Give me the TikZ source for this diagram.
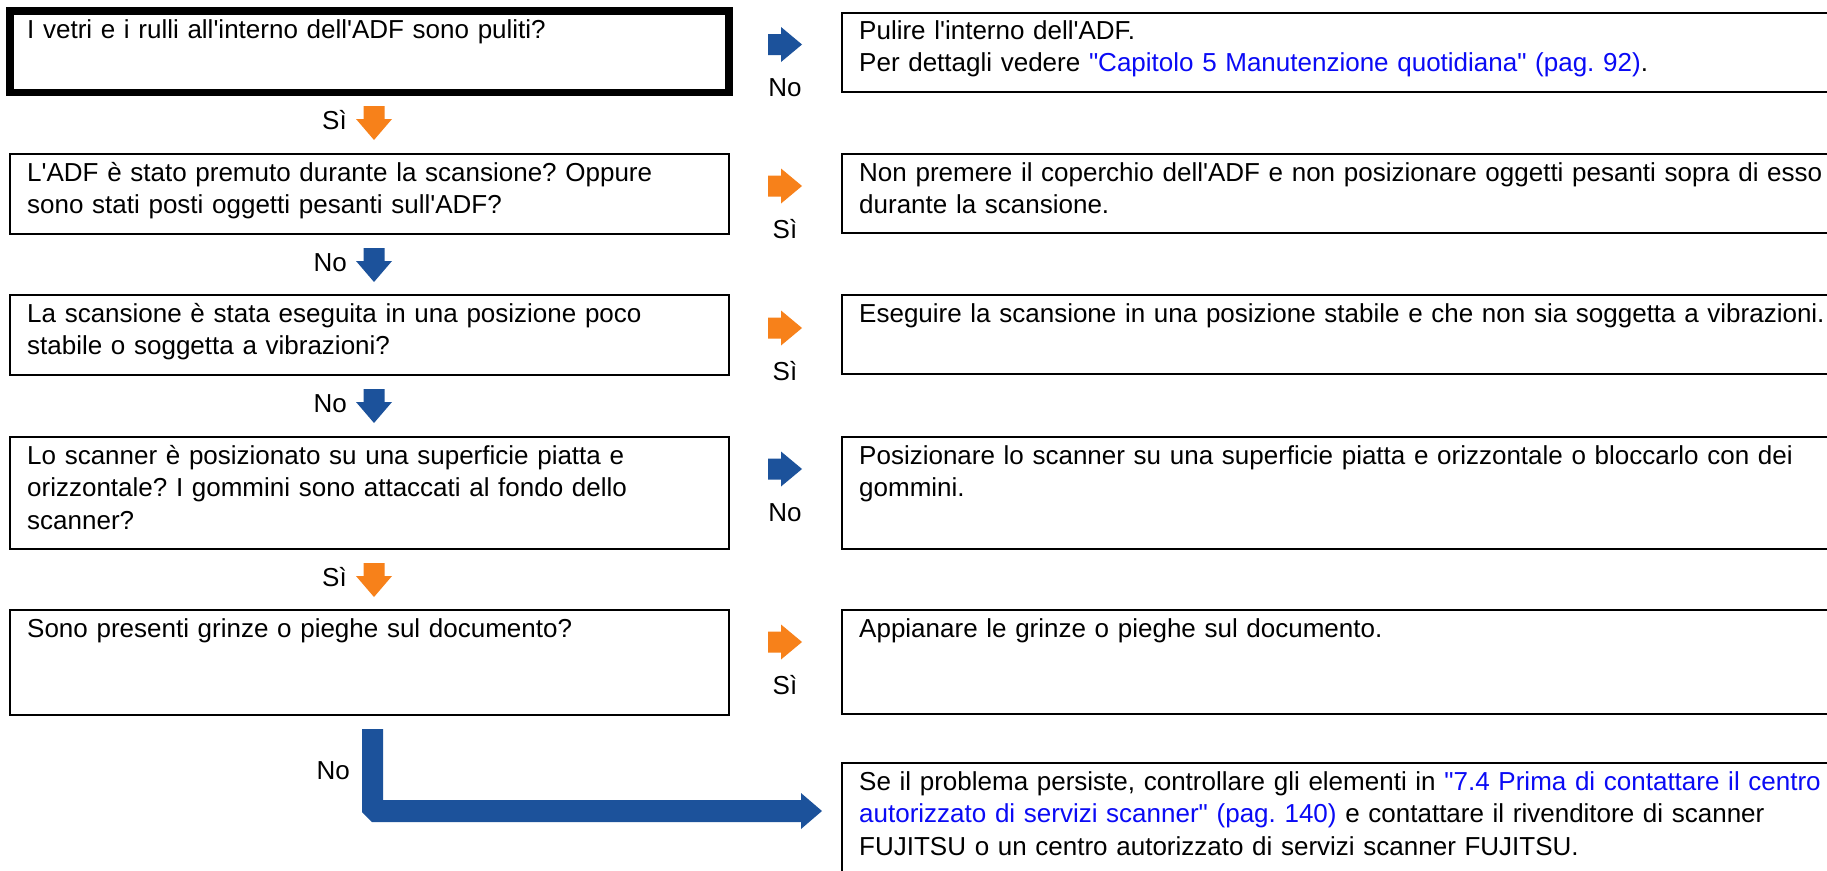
\documentclass[tikz,border=0pt]{standalone}
\usepackage{fontspec}
\newfontfamily\arialf{Liberation Sans}
\definecolor{orng}{RGB}{247,129,26}
\definecolor{dblue}{RGB}{28,82,155}
\definecolor{lnk}{RGB}{10,10,245}
\newcommand{\lk}[1]{\textcolor{lnk}{#1}}
\frenchspacing
\begin{document}
\begin{tikzpicture}[x=1pt,y=-1pt,
  qbox/.style={draw, line width=2.7pt, anchor=north west, inner sep=0pt, outer sep=0pt, minimum width=719pt},
  abox/.style={draw, line width=2.7pt, anchor=north west, inner sep=0pt, outer sep=0pt, minimum width=1100pt},
  txt/.style={anchor=base west, inner sep=0pt, font=\arialf\frenchspacing\fontsize{26}{32.5}\selectfont, text width=990pt, align=left},
  lbl/.style={inner sep=0pt, font=\arialf\fontsize{26}{32.5}\selectfont},
  rarr/.pic={\fill[#1] (0,-10.5) -- (13,-10.5) -- (13,-17.5) -- (34,0) -- (13,17.5) -- (13,10.5) -- (0,10.5) -- cycle;},
  darr/.pic={\fill[#1] (-10.5,0) -- (10.5,0) -- (10.5,13) -- (18,13) -- (0,34) -- (-18,13) -- (-10.5,13) -- cycle;},
]
\clip (0,0) rectangle (1827,870);
\fill[white] (0,0) rectangle (1827,870);

% question boxes
\node[qbox, line width=7.5pt, minimum height=81.5pt] (q1) at (10,11) {};
\node[qbox, minimum height=80pt] (q2) at (10,154) {};
\node[qbox, minimum height=80pt] (q3) at (10,295) {};
\node[qbox, minimum height=112pt] (q4) at (10,437) {};
\node[qbox, minimum height=105pt] (q5) at (10,610) {};

% answer boxes
\node[abox, minimum height=79pt] (a1) at (842,13) {};
\node[abox, minimum height=79pt] (a2) at (842,154) {};
\node[abox, minimum height=79pt] (a3) at (842,295) {};
\node[abox, minimum height=112pt] (a4) at (842,437) {};
\node[abox, minimum height=104pt] (a5) at (842,610) {};
\node[abox, minimum height=200pt] (a6) at (842,763) {};

% texts
\node[txt] (tq1) at ([shift={(17pt,-27pt)}]q1.north west) {I vetri e i rulli all'interno dell'ADF sono puliti?};
\node[txt] (tq2) at ([shift={(17pt,-27pt)}]q2.north west) {L'ADF è stato premuto durante la scansione? Oppure\\sono stati posti oggetti pesanti sull'ADF?};
\node[txt] (tq3) at ([shift={(17pt,-27pt)}]q3.north west) {La scansione è stata eseguita in una posizione poco\\stabile o soggetta a vibrazioni?};
\node[txt] (tq4) at ([shift={(17pt,-27pt)}]q4.north west) {Lo scanner è posizionato su una superficie piatta e\\orizzontale? I gommini sono attaccati al fondo dello\\scanner?};
\node[txt] (tq5) at ([shift={(17pt,-27pt)}]q5.north west) {Sono presenti grinze o pieghe sul documento?};

\node[txt] (ta1) at ([shift={(17pt,-26pt)}]a1.north west) {Pulire l'interno dell'ADF.\\Per dettagli vedere \lk{"Capitolo 5 Manutenzione quotidiana" (pag. 92)}.};
\node[txt] (ta2) at ([shift={(17pt,-27pt)}]a2.north west) {Non premere il coperchio dell'ADF e non posizionare oggetti pesanti sopra di esso\\durante la scansione.};
\node[txt] (ta3) at ([shift={(17pt,-27pt)}]a3.north west) {Eseguire la scansione in una posizione stabile e che non sia soggetta a vibrazioni.};
\node[txt] (ta4) at ([shift={(17pt,-27pt)}]a4.north west) {Posizionare lo scanner su una superficie piatta e orizzontale o bloccarlo con dei\\gommini.};
\node[txt] (ta5) at ([shift={(17pt,-27pt)}]a5.north west) {Appianare le grinze o pieghe sul documento.};
\node[txt] (ta6) at ([shift={(17pt,-27pt)}]a6.north west) {Se il problema persiste, controllare gli elementi in \lk{"7.4 Prima di contattare il centro}\\\lk{autorizzato di servizi scanner" (pag. 140)} e contattare il rivenditore di scanner\\FUJITSU o un centro autorizzato di servizi scanner FUJITSU.};

% right arrows with labels
\pic at (768,44.5) {rarr=dblue};
\node[lbl, anchor=base] (r1) at (785,96.5) {No};
\pic at (768,186) {rarr=orng};
\node[lbl, anchor=base] (r2) at (785,238) {Sì};
\pic at (768,328) {rarr=orng};
\node[lbl, anchor=base] (r3) at (785,380) {Sì};
\pic at (768,469) {rarr=dblue};
\node[lbl, anchor=base] (r4) at (785,521) {No};
\pic at (768,642) {rarr=orng};
\node[lbl, anchor=base] (r5) at (785,694) {Sì};

% down arrows with labels
\pic at (374,106) {darr=orng};
\node[lbl, anchor=base east] (d1) at (347,129) {Sì};
\pic at (374,248) {darr=dblue};
\node[lbl, anchor=base east] (d2) at (347,271) {No};
\pic at (374,389) {darr=dblue};
\node[lbl, anchor=base east] (d3) at (347,412) {No};
\pic at (374,563) {darr=orng};
\node[lbl, anchor=base east] (d4) at (347,586) {Sì};

% final L-shaped arrow
\fill[dblue] (362,729) -- (383,729) -- (383,800) -- (801,800) -- (801,793) -- (822,811) -- (801,829) -- (801,822) -- (372,822) -- (362,812) -- cycle;
\node[lbl, anchor=base east] (d5) at (350,779) {No};
\end{tikzpicture}
\end{document}
